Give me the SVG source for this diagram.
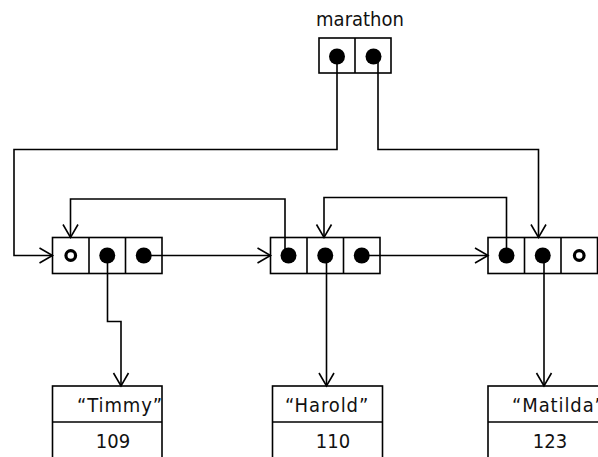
<svg xmlns="http://www.w3.org/2000/svg" width="598" height="457" viewBox="0 0 598 457">
<style>
.box{fill:#fff;stroke:#000;stroke-width:1.6}
.ln{fill:none;stroke:#000;stroke-width:1.6}
.arr{marker-end:url(#ah)}
.dot{fill:#000}
.hol{fill:#fff;stroke:#000;stroke-width:3.2}
text{font-family:"DejaVu Sans Condensed","DejaVu Sans",Verdana,sans-serif;font-stretch:condensed;font-size:20px;fill:#111}
.nm{letter-spacing:0.9px}
</style>
<defs>
<marker id="ah" viewBox="-15 -9 17 18" markerWidth="17" markerHeight="18" refX="0" refY="0" orient="auto" markerUnits="userSpaceOnUse">
<path d="M-13,-7.5 L0,0 L-13,7.5" fill="none" stroke="#000" stroke-width="1.6"/>
</marker>
</defs>
<rect width="598" height="457" fill="#fff"/>

<g id="marathon">
<text x="360" y="26" text-anchor="middle">marathon</text>
<rect class="box" x="319" y="38" width="72" height="35"/>
<line class="ln" x1="355" y1="38" x2="355" y2="73"/>
</g>

<g id="node1">
<rect class="box" x="52.5" y="237.5" width="109.5" height="36"/>
<line class="ln" x1="89" y1="237.5" x2="89" y2="273.5"/>
<line class="ln" x1="125.5" y1="237.5" x2="125.5" y2="273.5"/>
</g>
<g id="node2">
<rect class="box" x="270.5" y="237.5" width="109.5" height="36"/>
<line class="ln" x1="307" y1="237.5" x2="307" y2="273.5"/>
<line class="ln" x1="343.5" y1="237.5" x2="343.5" y2="273.5"/>
</g>
<g id="node3">
<rect class="box" x="488" y="237.5" width="109.5" height="36"/>
<line class="ln" x1="524.5" y1="237.5" x2="524.5" y2="273.5"/>
<line class="ln" x1="561" y1="237.5" x2="561" y2="273.5"/>
</g>

<g id="timmy">
<text class="nm" x="77" y="411.5">“Timmy”</text>
<rect x="52.5" y="386" width="109.5" height="80" fill="none" stroke="#000" stroke-width="1.6"/>
<line class="ln" x1="52.5" y1="422" x2="162" y2="422"/>
<text x="113" y="448" text-anchor="middle">109</text>
</g>
<g id="harold">
<rect class="box" x="272.5" y="386" width="110" height="80"/>
<line class="ln" x1="272.5" y1="422" x2="382.5" y2="422"/>
<text class="nm" x="285" y="411.5">“Harold”</text>
<text x="333" y="448" text-anchor="middle">110</text>
</g>
<g id="matilda">
<rect class="box" x="488" y="386" width="112" height="80"/>
<line class="ln" x1="488" y1="422" x2="600" y2="422"/>
<text class="nm" x="512" y="411.5">“Matilda”</text>
<text x="550" y="448" text-anchor="middle">123</text>
</g>

<g id="connectors">
<path class="ln arr" d="M337,56 V149.5 H14 V255.5 H52.5"/>
<path class="ln arr" d="M378,56 V149.5 H538.5 V237.5"/>
<path class="ln arr" d="M285,255.5 V199 H70.5 V237.5"/>
<path class="ln arr" d="M506.5,255.5 V197.5 H324 V237.5"/>
<path class="ln arr" d="M143.75,255.5 H270.5"/>
<path class="ln arr" d="M361.75,255.5 H488"/>
<path class="ln arr" d="M107.5,255.5 V321.5 H121 V386"/>
<path class="ln arr" d="M326.5,255.5 V386"/>
<path class="ln arr" d="M544,255.5 V386"/>
</g>

<g id="pointers">
<circle class="dot" cx="337" cy="56.5" r="8"/>
<circle class="dot" cx="373.5" cy="56.5" r="8"/>
<circle class="hol" cx="70.75" cy="255.5" r="4.8"/>
<circle class="dot" cx="107.25" cy="255.5" r="8"/>
<circle class="dot" cx="143.75" cy="255.5" r="8"/>
<circle class="dot" cx="288.5" cy="255.5" r="8"/>
<circle class="dot" cx="325.25" cy="255.5" r="8"/>
<circle class="dot" cx="361.75" cy="255.5" r="8"/>
<circle class="dot" cx="506.5" cy="255.5" r="8"/>
<circle class="dot" cx="542.75" cy="255.5" r="8"/>
<circle class="hol" cx="579.25" cy="255.5" r="4.8"/>
</g>
</svg>
